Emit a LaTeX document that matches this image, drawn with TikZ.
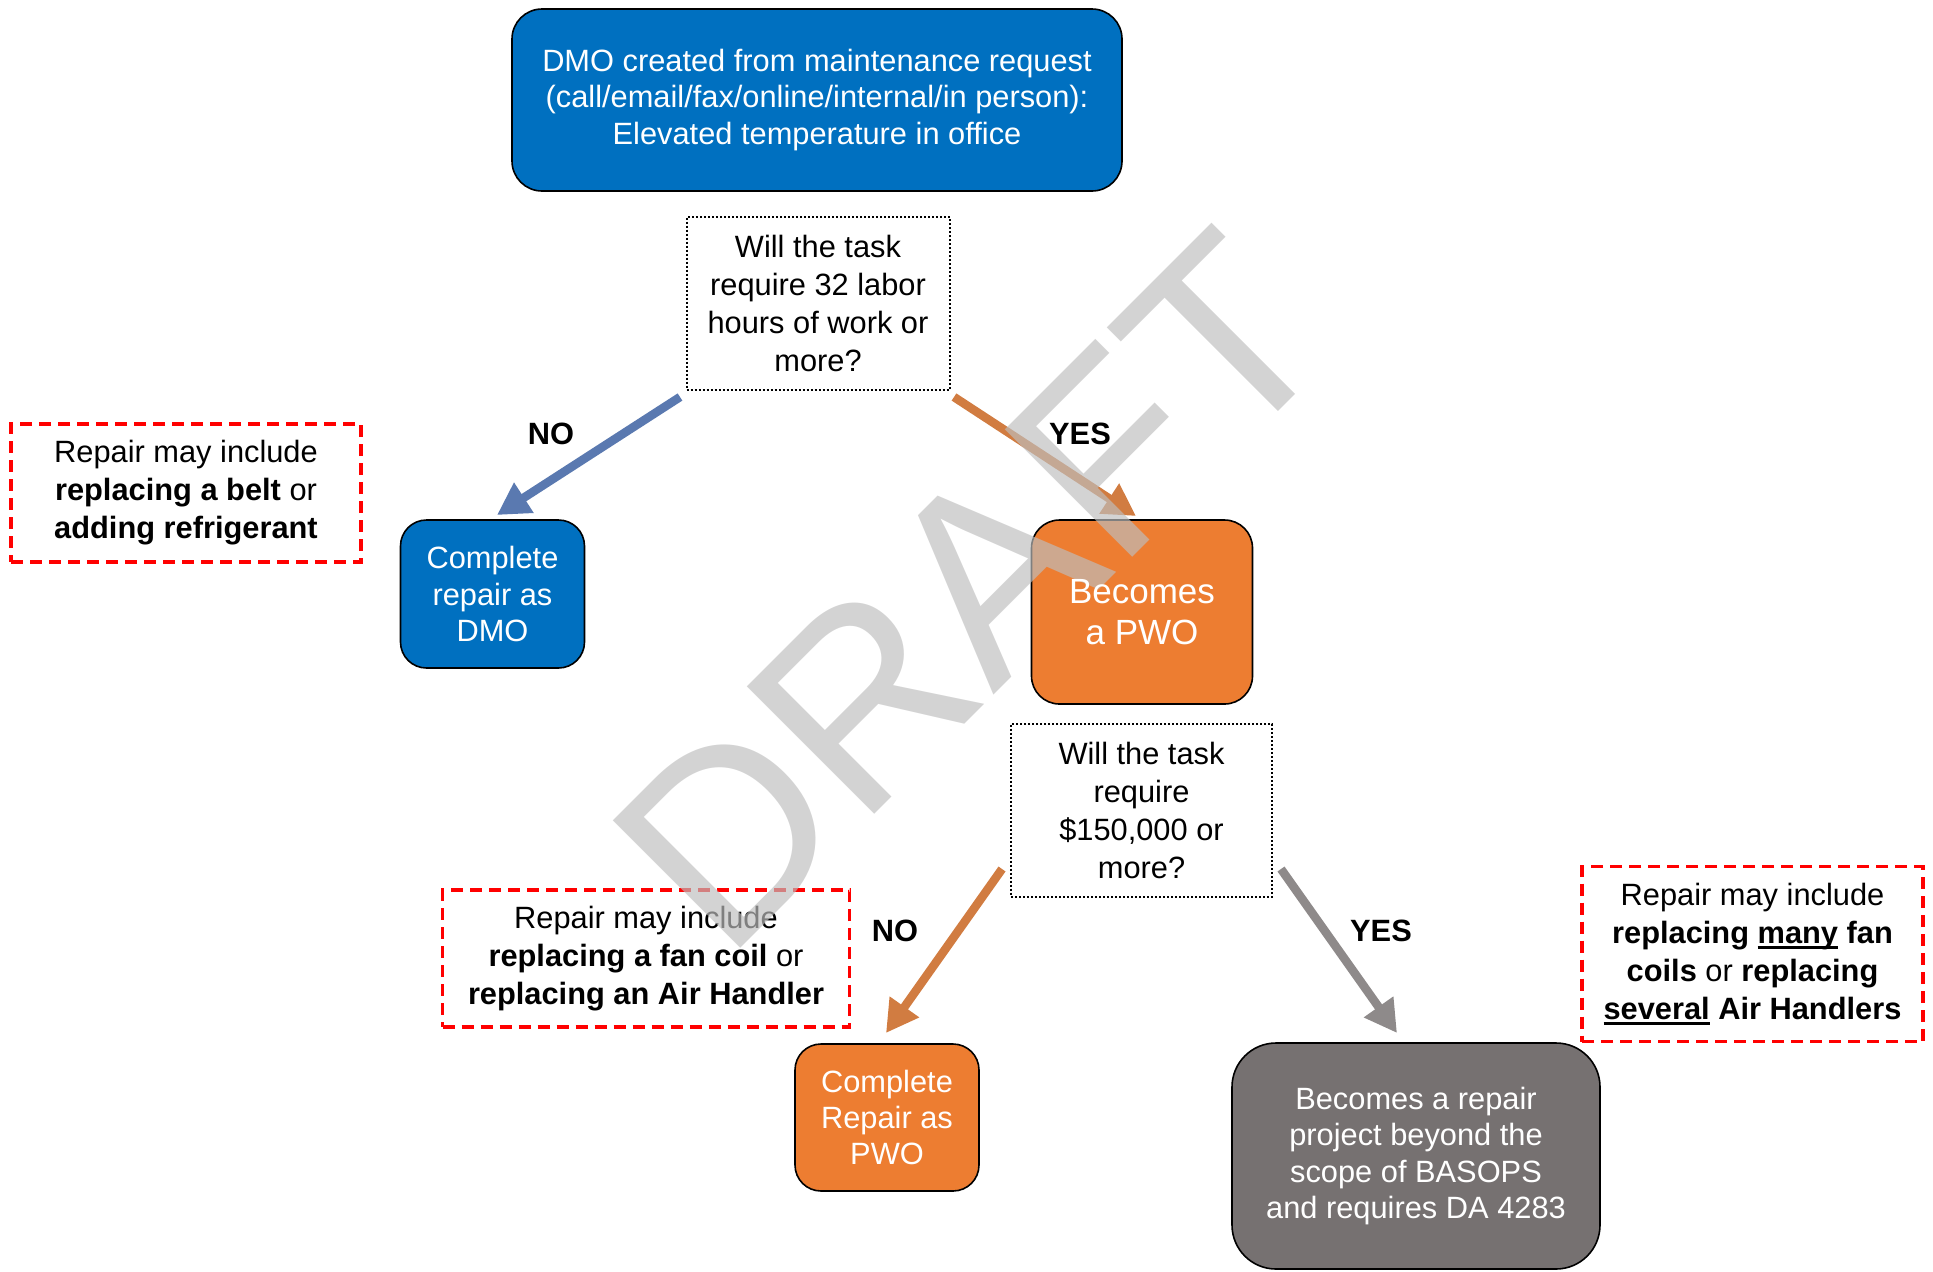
\documentclass[tikz,border=0pt]{standalone}
\usepackage{fontspec}
\setmainfont{Liberation Sans}
\usetikzlibrary{arrows.meta}
\definecolor{boxblue}{HTML}{0070C0}
\definecolor{boxorange}{HTML}{ED7D31}
\definecolor{boxgray}{HTML}{767171}
\definecolor{arrblue}{HTML}{5A79B0}
\definecolor{arrorange}{HTML}{D17C41}
\definecolor{arrgray}{HTML}{8E8A8A}
\definecolor{wmgray}{HTML}{BEBEBE}
\newcommand\myul[1]{\setbox0\hbox{#1}\rlap{\rule[-2.6pt]{\wd0}{1.3pt}}\box0\relax}
\tikzset{
  base/.style={inner sep=0pt, align=center, font=\fontsize{15.4}{18.2}\selectfont},
  solidbox/.style={base, draw=black, line width=0.8pt, text=white},
  question/.style={base, draw=black, line width=1pt, dash pattern=on 1pt off 1pt, fill=white, font=\fontsize{15.4}{19}\selectfont},
  note/.style={base, draw=red, line width=1.6pt, dash pattern=on 6pt off 3.5pt, font=\fontsize{15.4}{19}\selectfont},
  flowarrow/.style={line width=4.3pt, -{Triangle[length=16pt,width=17pt]}},
  lbl/.style={inner sep=0pt, font=\fontsize{15.4}{18}\selectfont\bfseries}
}
\begin{document}
\begin{tikzpicture}[x=0.5pt,y=-0.5pt]
\useasboundingbox (0,0) rectangle (1933,1271);

% nodes
\node[solidbox, fill=boxblue, rounded corners=15pt, minimum width=305pt, minimum height=91pt] (top) at (817,100)
  {\rule{0pt}{4pt}DMO created from maintenance request\\(call/email/fax/online/internal/in person):\\Elevated temperature in office};
\node[question, minimum width=131.5pt, minimum height=86.5pt] (q1) at (818,303)
  {Will the task\\require 32 labor\\hours of work or\\more?};
\node[note, minimum width=175pt, minimum height=69pt] (n1) at (186,493)
  {Repair may include\\\textbf{replacing a belt} or\\\textbf{adding refrigerant}};
\node[solidbox, fill=boxblue, rounded corners=13pt, minimum width=92pt, minimum height=74pt] (dmo) at (492.5,594)
  {Complete\\repair as\\DMO};
\node[solidbox, fill=boxorange, rounded corners=14pt, minimum width=110.5pt, minimum height=92pt] (pwo) at (1142,612) {};
\node[question, minimum width=130.5pt, minimum height=86.5pt] (q2) at (1141.5,810)
  {Will the task\\require\\\$150,000 or\\more?};
\node[note, minimum width=203.5pt, minimum height=68.5pt] (n2) at (646,958.5)
  {Repair may include\\\textbf{replacing a fan coil} or\\\textbf{replacing an Air Handler}};
\node[solidbox, fill=boxorange, rounded corners=13pt, minimum width=92pt, minimum height=73.5pt] (cpwo) at (887,1117.5)
  {Complete\\Repair as\\PWO};
\node[solidbox, fill=boxgray, rounded corners=22pt, minimum width=184pt, minimum height=113pt] (proj) at (1416,1156)
  {\rule{0pt}{6pt}Becomes a repair\\project beyond the\\scope of BASOPS\\and requires DA 4283};
\node[note, minimum width=170.5pt, minimum height=87.5pt] (n3) at (1752.5,954)
  {Repair may include\\\textbf{replacing \myul{many} fan}\\\textbf{coils} or \textbf{replacing}\\\textbf{\myul{several} Air Handlers}};

% arrows
\coordinate (a1s) at (680,397);
\coordinate (a1e) at (497,515);
\coordinate (a2s) at (954,397);
\coordinate (a2e) at (1136,516);
\coordinate (a3s) at (1002,869);
\coordinate (a3e) at (886,1033);
\coordinate (a4s) at (1281,869);
\coordinate (a4e) at (1397,1033);
\draw[flowarrow, draw=arrblue, fill=arrblue] (a1s) -- (a1e);
\draw[flowarrow, draw=arrorange, fill=arrorange] (a2s) -- (a2e);
\draw[flowarrow, draw=arrorange, fill=arrorange] (a3s) -- (a3e);
\draw[flowarrow, draw=arrgray, fill=arrgray] (a4s) -- (a4e);

% labels
\node[lbl] (no1) at (551,434) {NO};
\node[lbl] (yes1) at (1080,434) {YES};
\node[lbl] (no2) at (895,931) {NO};
\node[lbl] (yes2) at (1381,931) {YES};

% watermark
\node[rotate=45, inner sep=0pt, text=wmgray, opacity=0.67,
  font=\fontsize{131}{131}\selectfont] (wm) at (971,591) {DRAFT};

% text of the PWO box lies above the watermark
\node[base, text=white, font=\fontsize{17.5}{20.5}\selectfont] (pwotext) at (pwo.center) {Becomes\\a PWO};
\end{tikzpicture}
\end{document}
